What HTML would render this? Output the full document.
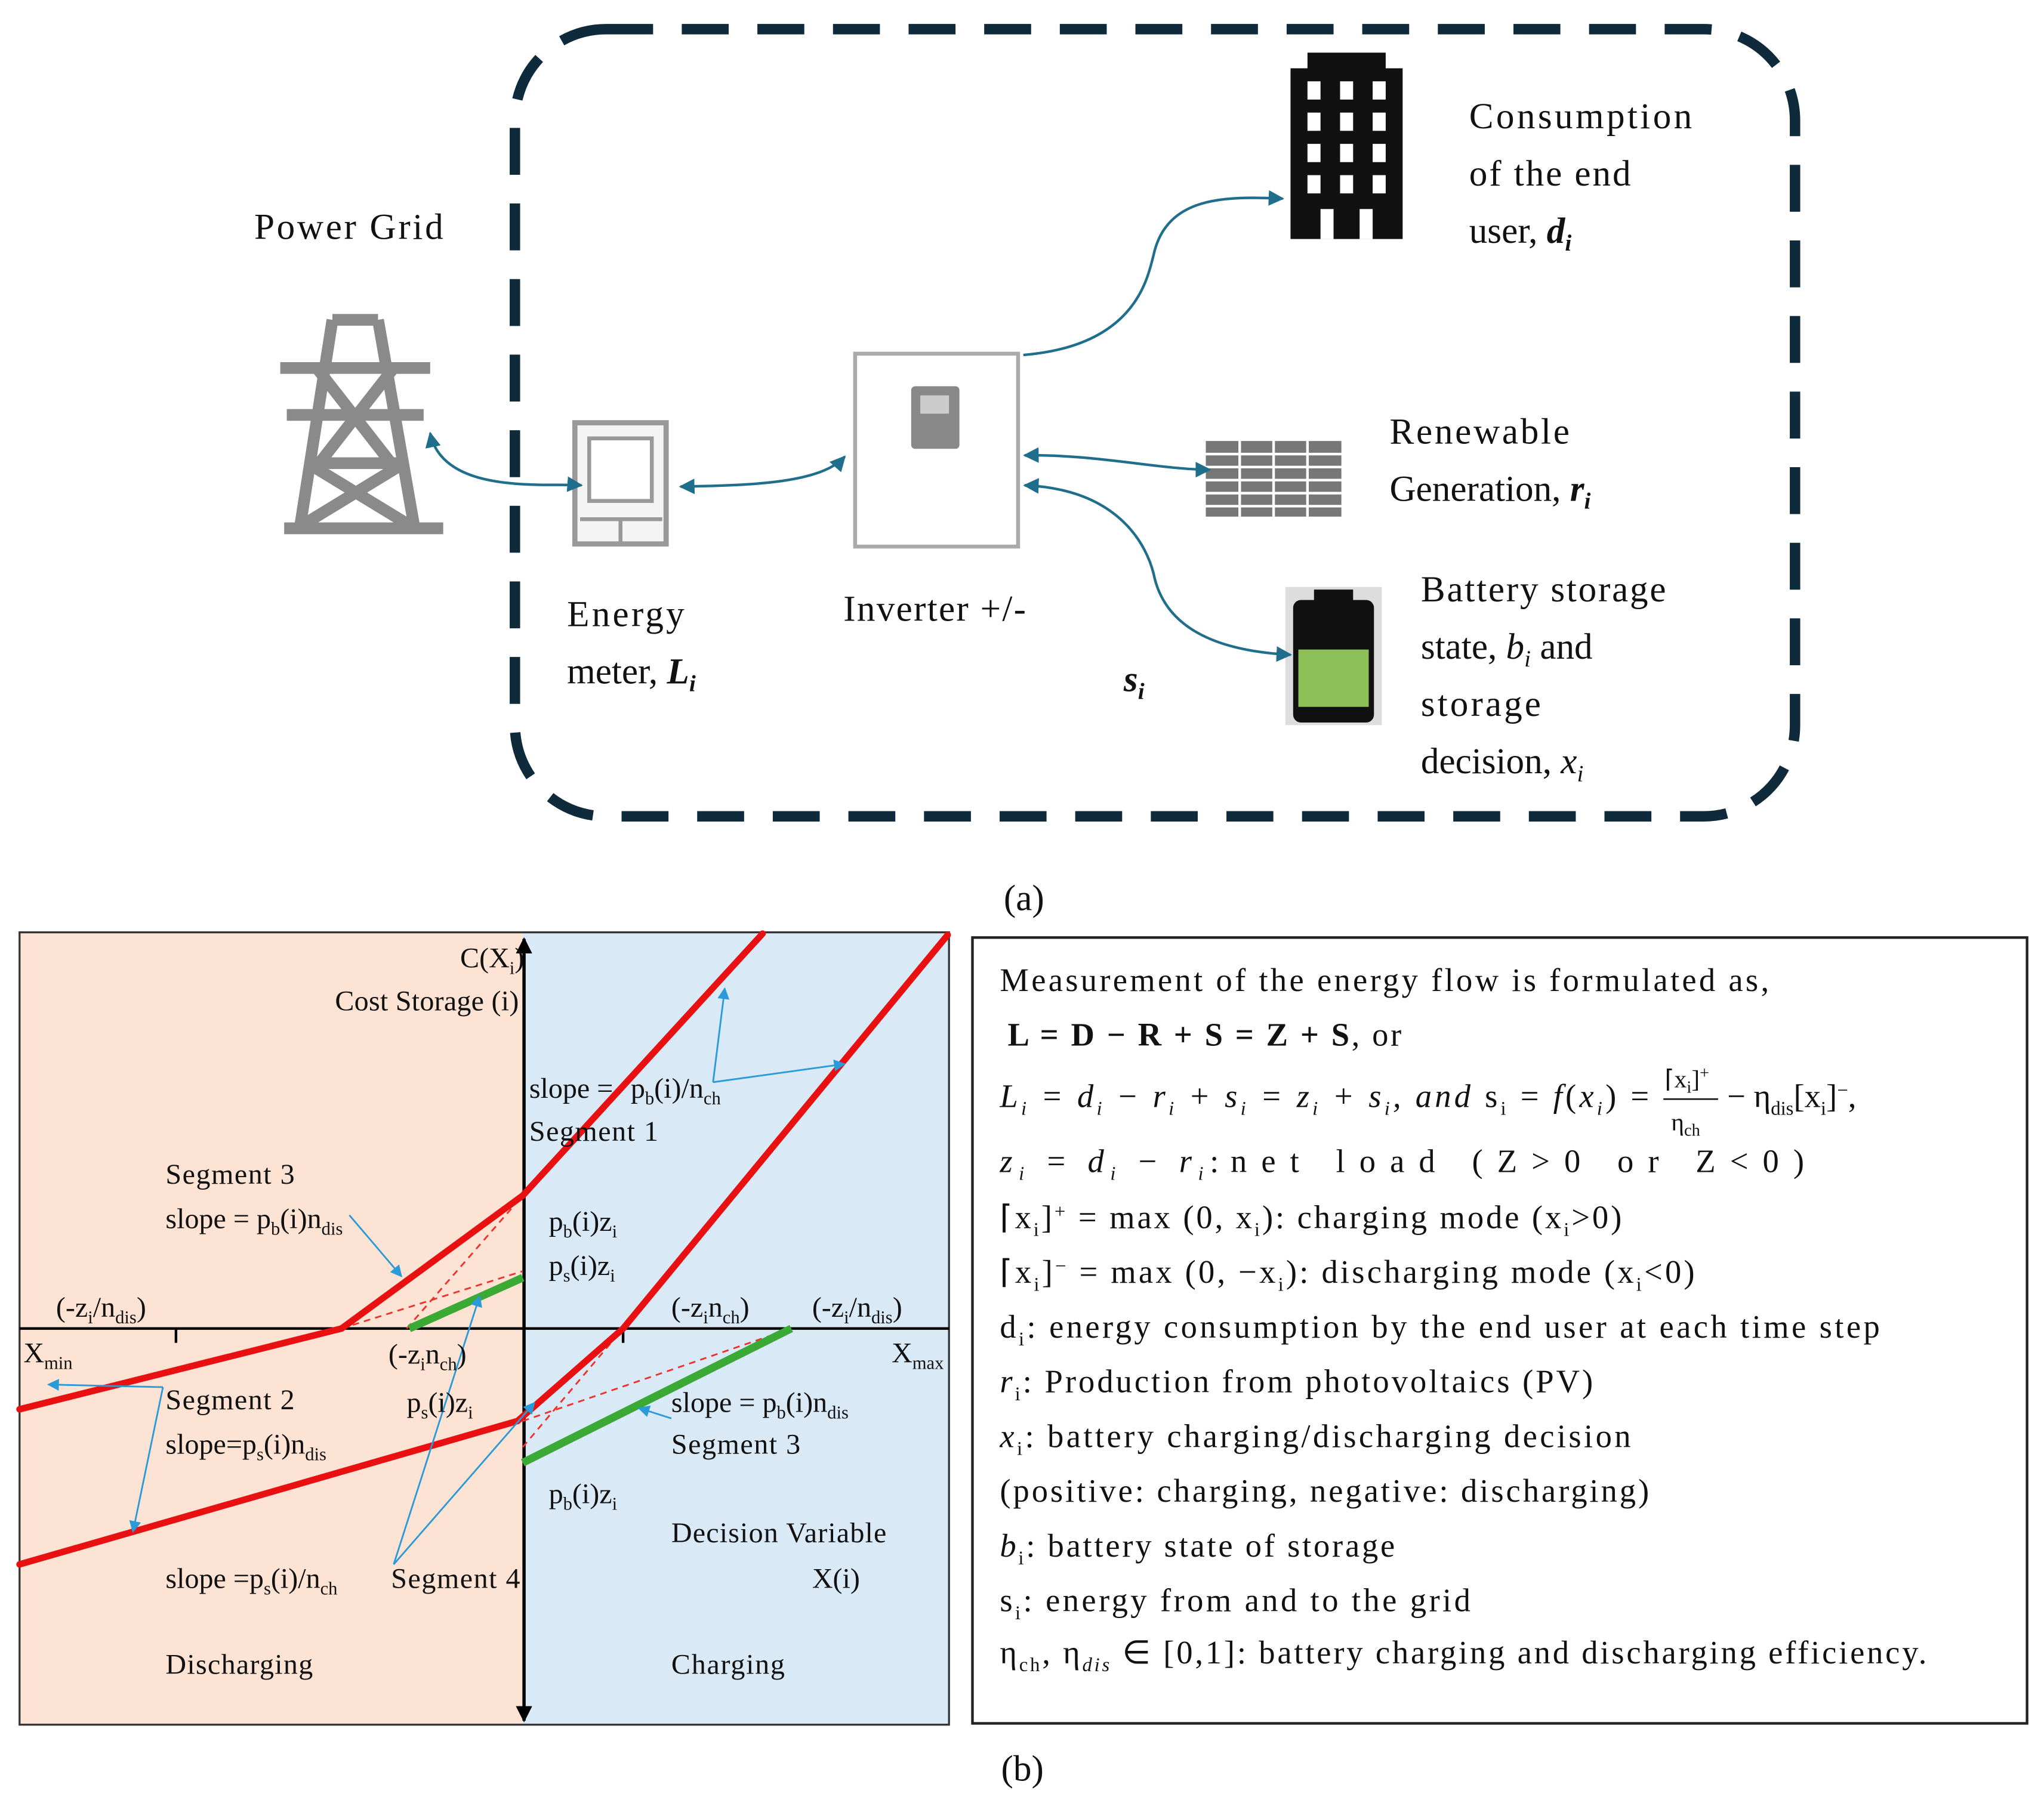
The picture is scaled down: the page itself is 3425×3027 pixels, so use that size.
<!DOCTYPE html>
<html><head><meta charset="utf-8"><style>
html,body{margin:0;padding:0;background:#fff}
svg{display:block}
text{font-family:"Liberation Serif",serif;fill:#111}
</style></head><body>
<svg width="3425" height="3027" viewBox="0 0 1568 1385" xmlns="http://www.w3.org/2000/svg">
<defs>
<marker id="ab" viewBox="0 0 10 10" refX="9" refY="5" markerWidth="6" markerHeight="6" orient="auto-start-reverse"><path d="M0,0L10,5L0,10z" fill="#1f6e8c"/></marker>
<marker id="al" viewBox="0 0 10 10" refX="9" refY="5" markerWidth="7" markerHeight="7" orient="auto"><path d="M0,0L10,5L0,10z" fill="#2a9ad8"/></marker>
<marker id="ak" viewBox="0 0 10 10" refX="9" refY="5" markerWidth="5" markerHeight="5" orient="auto-start-reverse"><path d="M0,0L10,5L0,10z" fill="#000"/></marker>
</defs>
<rect x="395" y="22" width="982" height="604" rx="70" fill="none" stroke="#0f2a3a" stroke-width="8" stroke-dasharray="36 22"/>
<text x="195" y="183" font-size="28" textLength="145">Power Grid</text>
<g stroke="#8a8a8a" stroke-width="9" fill="none">
<path d="M255,245 L230,405 M290,245 L318,405 M255,245 H290 M215,282 H330 M220,318 H325 M240,355 H305 M218,405 H340 M243,282 L300,355 M302,282 L245,355 M236,355 L318,405 M310,355 L228,405"/>
</g>
<rect x="441" y="324" width="70" height="93" fill="#f4f4f4" stroke="#999" stroke-width="4"/>
<rect x="452" y="336" width="48" height="48" fill="#fff" stroke="#999" stroke-width="3"/>
<path d="M445,398 H508 M476,398 V416" stroke="#999" stroke-width="3"/>
<rect x="656" y="271" width="125" height="148" fill="#fff" stroke="#aaa" stroke-width="3"/>
<rect x="699" y="296" width="37" height="48" fill="#888" rx="3"/>
<rect x="706" y="303" width="22" height="14" fill="#ccc"/>
<rect x="990" y="52" width="86" height="131" fill="#111"/>
<rect x="1003" y="40" width="60" height="14" fill="#111"/>
<g fill="#fff">
<rect x="1003" y="62" width="10" height="14"/><rect x="1028" y="62" width="10" height="14"/><rect x="1053" y="62" width="10" height="14"/>
<rect x="1003" y="86" width="10" height="14"/><rect x="1028" y="86" width="10" height="14"/><rect x="1053" y="86" width="10" height="14"/>
<rect x="1003" y="110" width="10" height="14"/><rect x="1028" y="110" width="10" height="14"/><rect x="1053" y="110" width="10" height="14"/>
<rect x="1003" y="134" width="10" height="14"/><rect x="1028" y="134" width="10" height="14"/><rect x="1053" y="134" width="10" height="14"/>
<rect x="1013" y="160" width="10" height="23"/><rect x="1043" y="160" width="10" height="23"/>
</g>
<rect x="925" y="338" width="104" height="58" fill="#777"/>
<path d="M925,348H1029M925,358H1029M925,368H1029M925,378H1029M925,388H1029M951,338V396M977,338V396M1003,338V396" stroke="#fff" stroke-width="2"/>
<rect x="986" y="450" width="74" height="106" fill="#ddd"/>
<rect x="1008" y="452" width="30" height="10" fill="#111"/>
<rect x="992" y="460" width="62" height="94" fill="#111" rx="6"/>
<rect x="996" y="498" width="54" height="44" fill="#8dc056"/>
<g stroke="#1f6e8c" stroke-width="2" fill="none">
<path d="M330,332 C340,380 420,370 446,372" marker-start="url(#ab)" marker-end="url(#ab)"/>
<path d="M522,373 C580,372 630,370 648,350" marker-start="url(#ab)" marker-end="url(#ab)"/>
<path d="M785,272 C870,265 880,215 885,195 C895,150 940,150 984,152" marker-end="url(#ab)"/>
<path d="M786,349 C840,348 890,360 928,360" marker-start="url(#ab)" marker-end="url(#ab)"/>
<path d="M786,372 C860,375 880,420 885,440 C895,490 950,500 990,502" marker-start="url(#ab)" marker-end="url(#ab)"/>
</g>
<g font-size="28">
<text x="1127" y="98" textLength="171">Consumption</text>
<text x="1127" y="142" textLength="124">of the end</text>
<text x="1127" y="186">user, <tspan font-weight="bold" font-style="italic">d<tspan font-size="18" dy="6">i</tspan></tspan></text>
<text x="1066" y="340" textLength="138">Renewable</text>
<text x="1066" y="384">Generation, <tspan font-weight="bold" font-style="italic">r<tspan font-size="18" dy="6">i</tspan></tspan></text>
<text x="1090" y="461" textLength="188">Battery storage</text>
<text x="1090" y="505">state, <tspan font-style="italic">b<tspan font-size="18" dy="6">i</tspan></tspan><tspan dy="-6"> and</tspan></text>
<text x="1090" y="549" textLength="92">storage</text>
<text x="1090" y="593">decision, <tspan font-style="italic">x<tspan font-size="18" dy="6">i</tspan></tspan></text>
<text x="435" y="480" textLength="90">Energy</text>
<text x="435" y="524">meter, <tspan font-weight="bold" font-style="italic">L<tspan font-size="18" dy="6">i</tspan></tspan></text>
<text x="647" y="476" textLength="140">Inverter +/-</text>
<text x="862" y="530" font-weight="bold" font-style="italic">s<tspan font-size="18" dy="6">i</tspan></text>
<text x="770" y="698">(a)</text>
<text x="768" y="1366">(b)</text>
</g>
<rect x="15" y="715" width="386" height="608" fill="#fde3d3"/>
<rect x="401" y="715" width="327" height="608" fill="#d9e9f5"/>
<rect x="15" y="715" width="713" height="608" fill="none" stroke="#333" stroke-width="1.5"/>
<line x1="15" y1="1019" x2="728" y2="1019" stroke="#000" stroke-width="2"/>
<line x1="135" y1="1019" x2="135" y2="1030" stroke="#000" stroke-width="2"/>
<line x1="478" y1="1019" x2="478" y2="1030" stroke="#000" stroke-width="2"/>
<line x1="402" y1="1320" x2="402" y2="720" stroke="#000" stroke-width="2.5" marker-end="url(#ak)" marker-start="url(#ak)"/>
<g stroke="#f0302a" stroke-width="1.3" stroke-dasharray="5 4" fill="none">
<path d="M262,1019 L401,975 M312,1019 L401,917 M401,1090 L607,1019 M401,1110 L478,1019"/>
</g>
<g stroke="#e81010" stroke-width="5" fill="none" stroke-linecap="round">
<path d="M15,1081 L262,1019 L401,917 L585,716"/>
<path d="M15,1200 L397,1090 L478,1019 L727,717"/>
</g>
<g stroke="#3aaa35" stroke-width="6"><path d="M314,1019 L401,980"/><path d="M401,1122 L607,1019"/></g>
<g stroke="#2a9ad8" stroke-width="1.3" fill="none">
<path d="M547,830 L556,758" marker-end="url(#al)"/>
<path d="M547,830 L648,816" marker-end="url(#al)"/>
<path d="M268,932 L308,979" marker-end="url(#al)"/>
<path d="M302,1200 L368,994" marker-end="url(#al)"/>
<path d="M302,1200 L410,1076" marker-end="url(#al)"/>
<path d="M125,1064 L37,1062" marker-end="url(#al)"/>
<path d="M125,1064 L102,1175" marker-end="url(#al)"/>
<path d="M515,1088 L490,1080" marker-end="url(#al)"/>
</g>
<g font-size="22">
<text x="353" y="742">C(X<tspan font-size="14" dy="5">i</tspan><tspan dy="-5">)</tspan></text>
<text x="257" y="775" textLength="141">Cost Storage (i)</text>
<text x="406" y="842">slope = <tspan dx="8">p<tspan font-size="14" dy="5">b</tspan><tspan dy="-5">(i)/n</tspan><tspan font-size="14" dy="5">ch</tspan></tspan></text>
<text x="406" y="875" textLength="99">Segment 1</text>
<text x="127" y="908" textLength="99">Segment 3</text>
<text x="127" y="942">slope = p<tspan font-size="14" dy="5">b</tspan><tspan dy="-5">(i)n</tspan><tspan font-size="14" dy="5">dis</tspan></text>
<text x="421" y="944">p<tspan font-size="14" dy="5">b</tspan><tspan dy="-5">(i)z</tspan><tspan font-size="14" dy="5">i</tspan></text>
<text x="421" y="978">p<tspan font-size="14" dy="5">s</tspan><tspan dy="-5">(i)z</tspan><tspan font-size="14" dy="5">i</tspan></text>
<text x="43" y="1010">(-z<tspan font-size="14" dy="5">i</tspan><tspan dy="-5">/n</tspan><tspan font-size="14" dy="5">dis</tspan><tspan dy="-5">)</tspan></text>
<text x="515" y="1010">(-z<tspan font-size="14" dy="5">i</tspan><tspan dy="-5">n</tspan><tspan font-size="14" dy="5">ch</tspan><tspan dy="-5">)</tspan></text>
<text x="623" y="1010">(-z<tspan font-size="14" dy="5">i</tspan><tspan dy="-5">/n</tspan><tspan font-size="14" dy="5">dis</tspan><tspan dy="-5">)</tspan></text>
<text x="18" y="1045">X<tspan font-size="14" dy="5">min</tspan></text>
<text x="684" y="1045">X<tspan font-size="14" dy="5">max</tspan></text>
<text x="298" y="1046">(-z<tspan font-size="14" dy="5">i</tspan><tspan dy="-5">n</tspan><tspan font-size="14" dy="5">ch</tspan><tspan dy="-5">)</tspan></text>
<text x="127" y="1081" textLength="99">Segment 2</text>
<text x="312" y="1083">p<tspan font-size="14" dy="5">s</tspan><tspan dy="-5">(i)z</tspan><tspan font-size="14" dy="5">i</tspan></text>
<text x="515" y="1083">slope = p<tspan font-size="14" dy="5">b</tspan><tspan dy="-5">(i)n</tspan><tspan font-size="14" dy="5">dis</tspan></text>
<text x="127" y="1115">slope=p<tspan font-size="14" dy="5">s</tspan><tspan dy="-5">(i)n</tspan><tspan font-size="14" dy="5">dis</tspan></text>
<text x="515" y="1115" textLength="99">Segment 3</text>
<text x="421" y="1153">p<tspan font-size="14" dy="5">b</tspan><tspan dy="-5">(i)z</tspan><tspan font-size="14" dy="5">i</tspan></text>
<text x="515" y="1183" textLength="165">Decision Variable</text>
<text x="623" y="1218">X(i)</text>
<text x="127" y="1218">slope =p<tspan font-size="14" dy="5">s</tspan><tspan dy="-5">(i)/n</tspan><tspan font-size="14" dy="5">ch</tspan></text>
<text x="300" y="1218" textLength="99">Segment 4</text>
<text x="127" y="1284" textLength="113">Discharging</text>
<text x="515" y="1284" textLength="87">Charging</text>
</g>
<rect x="746" y="719" width="809" height="603" fill="#fff" stroke="#222" stroke-width="2"/>
<g font-size="25">
<text x="767" y="760" textLength="590">Measurement of the energy flow is formulated as,</text>
<text x="773" y="802" font-weight="bold" textLength="302">L = D − R + S = Z + S<tspan font-weight="normal">, or</tspan></text>
<text x="767" y="849" font-style="italic" textLength="498">L<tspan font-size="15" dy="6">i</tspan><tspan dy="-6"> = d</tspan><tspan font-size="15" dy="6">i</tspan><tspan dy="-6"> − r</tspan><tspan font-size="15" dy="6">i</tspan><tspan dy="-6"> + s</tspan><tspan font-size="15" dy="6">i</tspan><tspan dy="-6"> = z</tspan><tspan font-size="15" dy="6">i</tspan><tspan dy="-6"> + s</tspan><tspan font-size="15" dy="6">i</tspan><tspan dy="-6">, and  </tspan><tspan font-style="normal">s<tspan font-size="15" dy="6">i</tspan><tspan dy="-6"> = </tspan></tspan>f<tspan font-style="normal">(</tspan>x<tspan font-size="15" dy="6">i</tspan><tspan dy="-6" font-style="normal">) =</tspan></text>
<text x="1277" y="834" font-size="19">⌈x<tspan font-size="13" dy="4">i</tspan><tspan dy="-4">]</tspan><tspan font-size="13" dy="-7">+</tspan></text>
<line x1="1276" y1="843" x2="1318" y2="843" stroke="#111" stroke-width="1.2"/>
<text x="1282" y="867" font-size="19">η<tspan font-size="13" dy="4">ch</tspan></text>
<text x="1325" y="849">− η<tspan font-size="15" dy="6">dis</tspan><tspan dy="-6">[x</tspan><tspan font-size="15" dy="6">i</tspan><tspan dy="-6">]</tspan><tspan font-size="15" dy="-8">−</tspan><tspan dy="8">,</tspan></text>
<text x="767" y="899" font-style="italic" textLength="168">z<tspan font-size="15" dy="6">i</tspan><tspan dy="-6"> = d</tspan><tspan font-size="15" dy="6">i</tspan><tspan dy="-6"> − r</tspan><tspan font-size="15" dy="6">i</tspan><tspan dy="-6" font-style="normal">:</tspan></text>
<text x="944" y="899" textLength="440">net load (Z&gt;0 or Z&lt;0)</text>
<text x="767" y="942" textLength="477">⌈x<tspan font-size="15" dy="6">i</tspan><tspan dy="-6">]</tspan><tspan font-size="15" dy="-8">+</tspan><tspan dy="8"> = max (0, x</tspan><tspan font-size="15" dy="6">i</tspan><tspan dy="-6">): charging mode (x</tspan><tspan font-size="15" dy="6">i</tspan><tspan dy="-6">&gt;0)</tspan></text>
<text x="767" y="984" textLength="533">⌈x<tspan font-size="15" dy="6">i</tspan><tspan dy="-6">]</tspan><tspan font-size="15" dy="-8">−</tspan><tspan dy="8"> = max (0, −x</tspan><tspan font-size="15" dy="6">i</tspan><tspan dy="-6">): discharging mode (x</tspan><tspan font-size="15" dy="6">i</tspan><tspan dy="-6">&lt;0)</tspan></text>
<text x="767" y="1026" textLength="675">d<tspan font-size="15" dy="6">i</tspan><tspan dy="-6">: energy consumption by the end user at each time step</tspan></text>
<text x="767" y="1068" textLength="455"><tspan font-style="italic">r</tspan><tspan font-size="15" dy="6">i</tspan><tspan dy="-6">: Production from photovoltaics (PV)</tspan></text>
<text x="767" y="1110" textLength="484"><tspan font-style="italic">x</tspan><tspan font-size="15" dy="6">i</tspan><tspan dy="-6">: battery charging/discharging decision</tspan></text>
<text x="767" y="1152" textLength="498">(positive: charging, negative: discharging)</text>
<text x="767" y="1194" textLength="303"><tspan font-style="italic">b</tspan><tspan font-size="15" dy="6">i</tspan><tspan dy="-6">: battery state of storage</tspan></text>
<text x="767" y="1236" textLength="361">s<tspan font-size="15" dy="6">i</tspan><tspan dy="-6">: energy from and to the grid</tspan></text>
<text x="767" y="1276" textLength="711">η<tspan font-size="15" dy="6">ch</tspan><tspan dy="-6">, η</tspan><tspan font-size="15" dy="6" font-style="italic">dis</tspan><tspan dy="-6"> ∈ [0,1]: battery charging and discharging efficiency.</tspan></text>
</g>
</svg>
</body></html>
